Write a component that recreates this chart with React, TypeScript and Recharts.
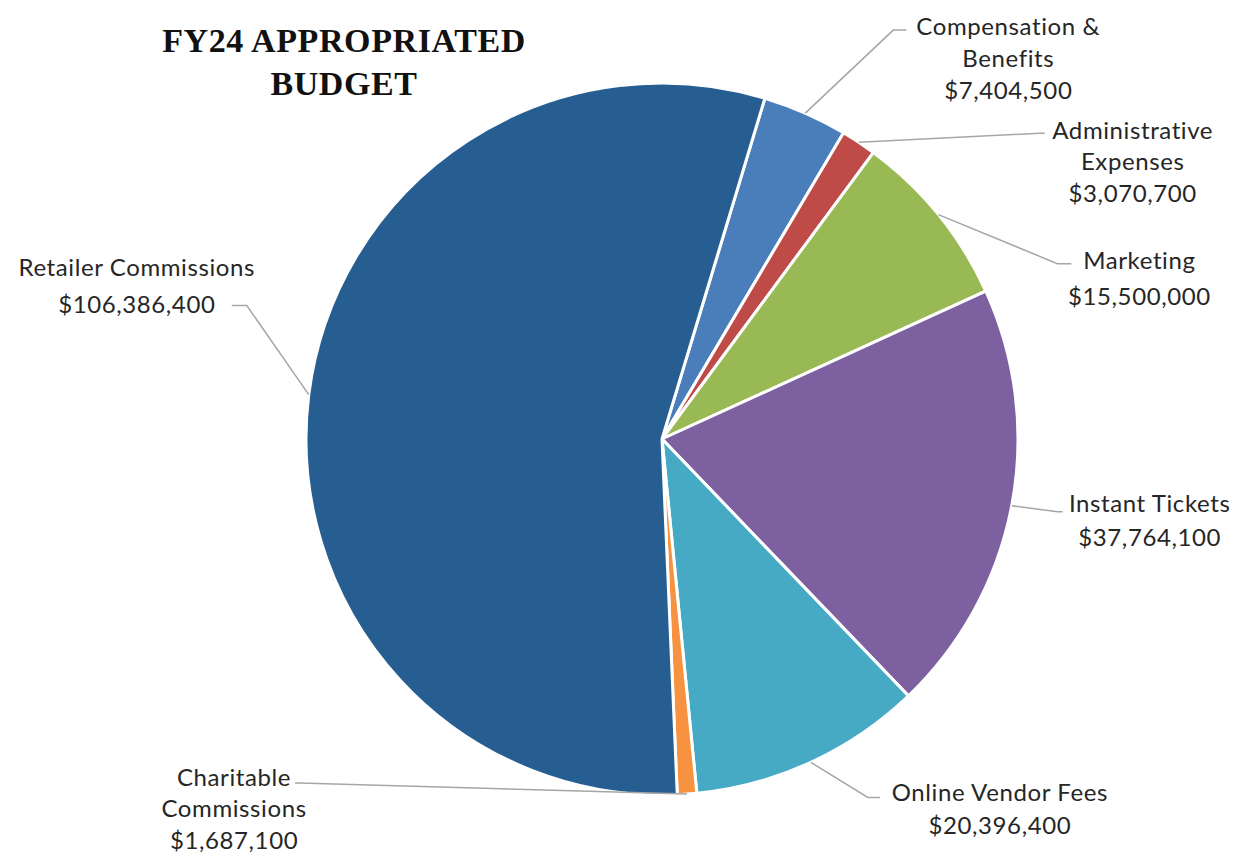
import React from "react"
import { PieChart, Pie, Cell } from "recharts"

// slices in clockwise order, starting just right of 12 o'clock
const categories = [
  "Compensation &\nBenefits",
  "Administrative\nExpenses",
  "Marketing",
  "Instant Tickets",
  "Online Vendor Fees",
  "Charitable\nCommissions",
  "Retailer Commissions",
]
const amounts = [7404500, 3070700, 15500000, 37764100, 20396400, 1687100, 106386400]
const colors = ["#4A7EBB", "#BE4B48", "#98B954", "#7D60A0", "#46AAC5", "#F69240", "#265E92"]

// leader line / label placement, relative to the slice's edge point
const labelLayout = [
  { ex: 88, ey: -83, h: 13, tx: 102, ty: -5, lh: 32 },
  { ex: 181, ey: -9, h: 5, tx: 88, ty: -4, lh: 31.5 },
  { ex: 119, ey: 49, h: 14, tx: 68, ty: -4, lh: 36 },
  { ex: 46, ey: 6, h: 5, tx: 87, ty: -9, lh: 34 },
  { ex: 57, ey: 35, h: 12, tx: 120, ty: -6, lh: 33 },
  { ex: -388, ey: -11, h: -4, tx: -61, ty: -7, lh: 31.5 },
  { ex: -62, ey: -89, h: -15, tx: -95, ty: -39, lh: 37 },
]

const data = categories.map((name, i) => ({ name, value: amounts[i] }))

const RAD = Math.PI / 180
const fmt = (v: number) => "$" + v.toLocaleString("en-US")

function renderLabel(props: any) {
  const { cx, cy, midAngle, outerRadius, index } = props
  const L = labelLayout[index]
  const x0 = cx + outerRadius * Math.cos(-midAngle * RAD)
  const y0 = cy + outerRadius * Math.sin(-midAngle * RAD)
  const x1 = x0 + L.ex
  const y1 = y0 + L.ey
  const x2 = x1 + L.h
  const lines = [...categories[index].split("\n"), fmt(amounts[index])]
  const tx = x2 + L.tx
  const ty = y1 + L.ty
  return (
    <g key={"lbl" + index}>
      <polyline
        points={`${x0},${y0} ${x1},${y1} ${x2},${y1}`}
        fill="none"
        stroke="#A6A6A6"
        strokeWidth={1.5}
      />
      <text
        x={tx}
        y={ty}
        textAnchor="middle"
        fontFamily="Lato, 'Noto Sans', sans-serif"
        fontSize={24}
        letterSpacing={0.6}
        fill="#262626"
      >
        {lines.map((ln, k) => (
          <tspan key={k} x={tx} y={ty + k * L.lh} dominantBaseline="central">
            {ln}
          </tspan>
        ))}
      </text>
    </g>
  )
}

export default function App() {
  return (
    <div style={{ position: "absolute", left: 0, top: 0, width: 1235, height: 857, background: "#fff" }}>
      <PieChart width={1235} height={857} margin={{ top: 0, right: 0, bottom: 0, left: 0 }}>
        <text
          x={344}
          y={52}
          textAnchor="middle"
          fontFamily="'Liberation Serif', serif"
          fontWeight="bold"
          fontSize={34}
          letterSpacing={0.6}
          fill="#111"
        >
          FY24 APPROPRIATED
        </text>
        <text
          x={344}
          y={95}
          textAnchor="middle"
          fontFamily="'Liberation Serif', serif"
          fontWeight="bold"
          fontSize={34}
          letterSpacing={0.6}
          fill="#111"
        >
          BUDGET
        </text>
        <Pie
          data={data}
          dataKey="value"
          nameKey="name"
          cx={662}
          cy={439}
          outerRadius={356}
          startAngle={73.2}
          endAngle={-286.8}
          stroke="#fff"
          strokeWidth={3}
          label={renderLabel}
          labelLine={false}
          isAnimationActive={false}
        >
          {data.map((d, i) => (
            <Cell key={d.name} fill={colors[i]} />
          ))}
        </Pie>
      </PieChart>
    </div>
  )
}
